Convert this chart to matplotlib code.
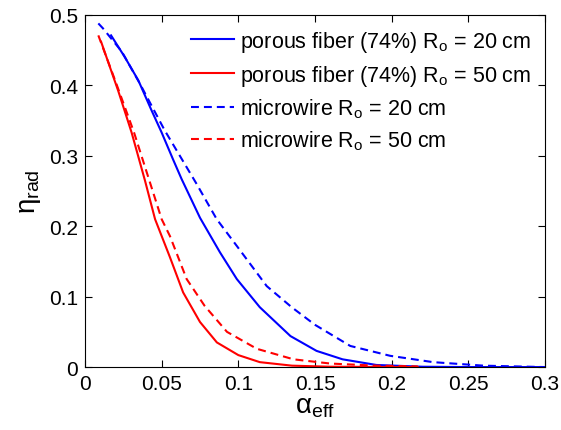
import numpy as np
import matplotlib
matplotlib.use('Agg')
import matplotlib.pyplot as plt
import matplotlib.ticker as mtick

plt.rcParams['font.family'] = ['Liberation Sans', 'DejaVu Sans']
plt.rcParams['mathtext.fontset'] = 'custom'
plt.rcParams['mathtext.rm'] = 'Liberation Sans'
plt.rcParams['mathtext.it'] = 'Liberation Sans'

# porous fiber, Ro = 20 cm
pf20_x = [0.017, 0.026, 0.0348, 0.0435, 0.05, 0.0574, 0.063, 0.075, 0.088, 0.099, 0.114, 0.134, 0.151, 0.168, 0.19, 0.22, 0.25, 0.30]
pf20_y = [0.471, 0.440, 0.407, 0.364, 0.333, 0.295, 0.267, 0.212, 0.163, 0.125, 0.085, 0.044, 0.023, 0.011, 0.003, 0.0005, 0.0, 0.0]
# porous fiber, Ro = 50 cm
pf50_x = [0.0105, 0.0217, 0.0304, 0.0391, 0.0457, 0.0554, 0.064, 0.075, 0.086, 0.10, 0.114, 0.135, 0.16, 0.217]
pf50_y = [0.462, 0.392, 0.333, 0.265, 0.210, 0.156, 0.106, 0.064, 0.035, 0.017, 0.007, 0.002, 0.0005, 0.0]
# microwire, Ro = 20 cm
mw20_x = [0.0087, 0.0117, 0.024, 0.0359, 0.052, 0.0728, 0.0859, 0.099, 0.1185, 0.1348, 0.15, 0.173, 0.199, 0.227, 0.26, 0.30]
mw20_y = [0.488, 0.481, 0.448, 0.402, 0.336, 0.260, 0.210, 0.172, 0.115, 0.085, 0.060, 0.030, 0.016, 0.007, 0.002, 0.0]
# microwire, Ro = 50 cm
mw50_x = [0.0087, 0.02, 0.032, 0.05, 0.0554, 0.0663, 0.078, 0.0926, 0.112, 0.136, 0.16, 0.19, 0.217]
mw50_y = [0.471, 0.405, 0.333, 0.210, 0.186, 0.125, 0.087, 0.050, 0.026, 0.011, 0.005, 0.002, 0.001]

fig = plt.figure(figsize=(5.61, 4.31), dpi=100)
ax = fig.add_axes([0.1515, 0.146, 0.82, 0.817])

dash = (3.8, 2.4)
ax.plot(pf20_x, pf20_y, '-', color='#0000ff', lw=1.5, label=r'porous fiber (74%) R$_\mathregular{o}$ = 20 cm')
ax.plot(pf50_x, pf50_y, '-', color='#ff0000', lw=1.5, label=r'porous fiber (74%) R$_\mathregular{o}$ = 50 cm')
ax.plot(mw20_x, mw20_y, '--', dashes=dash, color='#0000ff', lw=1.5, label=r'microwire R$_\mathregular{o}$ = 20 cm')
ax.plot(mw50_x, mw50_y, '--', dashes=dash, color='#ff0000', lw=1.5, label=r'microwire R$_\mathregular{o}$ = 50 cm')

ax.set_xlim(0, 0.3)
ax.set_ylim(0, 0.5)
ax.set_xticks(np.arange(0, 0.301, 0.05))
ax.set_yticks(np.arange(0, 0.501, 0.1))
fmt = mtick.FuncFormatter(lambda v, p: '%g' % round(v, 3))
ax.xaxis.set_major_formatter(fmt)
ax.yaxis.set_major_formatter(fmt)
ax.tick_params(direction='in', top=True, right=True, length=5, width=0.8, labelsize=15, pad=5)
for s in ax.spines.values():
    s.set_linewidth(0.8)

ax.set_xlabel(r'$\mathregular{\alpha_{eff}}$', fontsize=20, labelpad=0)
ax.set_ylabel(r'$\mathregular{\eta_{rad}}$', fontsize=20, labelpad=4)

ax.legend(loc='upper right', frameon=False, fontsize=15.5, handlelength=2.0,
          handletextpad=0.25, labelspacing=0.4, borderaxespad=0.25)

fig.savefig('out.png', dpi=100)
